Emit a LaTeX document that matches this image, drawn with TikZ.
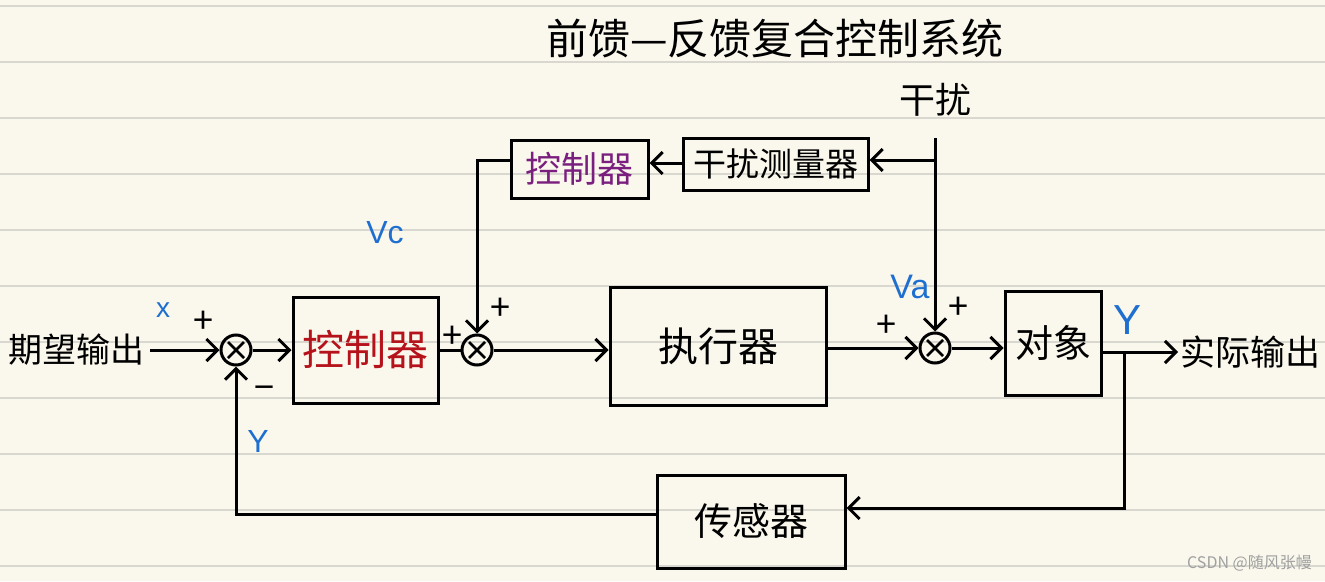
\documentclass[tikz,border=0pt]{standalone}
\usepackage{fontspec}
\setmainfont{Noto Sans CJK SC}
\newfontfamily\latinfont{Liberation Sans}
\usetikzlibrary{arrows.meta}
\definecolor{paper}{HTML}{FAF8EC}
\definecolor{rule}{HTML}{D8D8D0}
\definecolor{inkred}{HTML}{B5121B}
\definecolor{inkpurple}{HTML}{7A1F7F}
\definecolor{inkblue}{HTML}{1F6FD0}
\definecolor{wm}{HTML}{A0A0A0}
\tikzset{
  blk/.style={draw, line width=3pt, inner sep=0pt},
  sumj/.style={draw, circle, line width=3pt, minimum size=30pt, inner sep=0pt,
    path picture={\draw[line width=2.6pt]
      (path picture bounding box.south west)++(7pt,7pt) -- ++(16pt,16pt)
      (path picture bounding box.north west)++(7pt,-7pt) -- ++(16pt,-16pt);}},
  conn/.style={line width=3pt},
  arr/.style={line width=3pt, -{Straight Barb[length=11pt,width=22pt,line width=3pt]}},
  sign/.style={font=\fontsize{36}{38}\selectfont, inner sep=0pt},
  blue/.style={text=inkblue, font=\latinfont\fontsize{30}{32}\selectfont, inner sep=0pt},
}
\begin{document}
\begin{tikzpicture}[x=1pt,y=-1pt]
\fill[paper] (0,0) rectangle (1325,581);
\useasboundingbox (0,0) rectangle (1325,581);
\foreach \k in {0,...,10} \draw[rule, line width=2pt] (0,6+56*\k) -- (1325,6+56*\k);

% title
\node[font=\fontsize{42}{44}\selectfont, inner sep=0pt] (title) at (775,38) {前馈—反馈复合控制系统};
\node[font=\fontsize{36}{38}\selectfont, inner sep=0pt] (dist) at (935,100) {干扰};

% blocks
\node[blk, minimum width=145pt, minimum height=106pt, text=inkred, font=\fontsize{42}{44}\selectfont] (ctrl) at (365.5,350) {控制器};
\node[blk, minimum width=216pt, minimum height=118pt, font=\fontsize{40}{42}\selectfont] (exec) at (718,346) {执行器};
\node[blk, minimum width=96pt, minimum height=104pt, font=\fontsize{38}{40}\selectfont] (obj) at (1053,343) {对象};
\node[blk, minimum width=188pt, minimum height=93pt, font=\fontsize{38}{40}\selectfont] (sens) at (751,521.5) {传感器};
\node[blk, minimum width=185pt, minimum height=52pt, font=\fontsize{33}{35}\selectfont] (meas) at (775.5,164) {干扰测量器};
\node[blk, minimum width=137pt, minimum height=58pt, text=inkpurple, font=\fontsize{36}{38}\selectfont] (fctrl) at (579.5,169) {控制器};

% summing junctions
\node[sumj] (s1) at (236,350) {};
\node[sumj] (s2) at (477,350) {};
\node[sumj] (s3) at (935,348) {};

% input / output texts
\node[font=\fontsize{34}{36}\selectfont, inner sep=0pt, anchor=west] (inp) at (8,350) {期望输出};
\node[font=\fontsize{35}{37}\selectfont, inner sep=0pt, anchor=west] (outp) at (1180,352) {实际输出};
\coordinate (in1) at (150,350);
\coordinate (out1) at (1178,352);
\coordinate (br) at (1124,352);
\coordinate (fb) at (1124,508);
\coordinate (d0) at (935,138);
\coordinate (d1) at (935,160);
\coordinate (m1y) at (0,163);
\coordinate (f1y) at (0,160);
\coordinate (sy) at (0,514);

% connectors
\draw[arr] (in1) -- (s1);
\draw[arr] (s1) -- (ctrl.west |- s1);
\draw[conn] (ctrl.east |- s2) -- (s2);
\draw[arr] (s2) -- (exec.west |- s2);
\draw[arr] (exec.east |- s3) -- (s3);
\draw[arr] (s3) -- (s3 -| obj.west);
\draw[arr] (obj.east |- out1) -- (out1);
\draw[arr] (br) -- (fb) -- (fb -| sens.east);
\draw[arr] (sens.west |- sy) -| (s1);
\draw[arr] (d0) -- (s3);
\draw[arr] (d1) -- (d1 -| meas.east);
\draw[arr] (meas.west |- m1y) -- (m1y -| fctrl.east);
\draw[arr] (fctrl.west |- f1y) -| (s2);

% signs
\node[sign] (p1) at (203,322) {+};
\node[sign] (m1) at (264,393) {−};
\node[sign] (p2) at (452,337) {+};
\node[sign] (p3) at (500,309) {+};
\node[sign] (p4) at (886,326) {+};
\node[sign] (p5) at (958,308) {+};

% blue labels
\node[blue, font=\latinfont\fontsize{28}{30}\selectfont] (lx) at (163,310) {x};
\node[blue, font=\latinfont\fontsize{32}{34}\selectfont] (ly1) at (258,441) {Y};
\node[blue, font=\latinfont\fontsize{32}{34}\selectfont] (lvc) at (385,233) {Vc};
\node[blue, font=\latinfont\fontsize{34}{36}\selectfont] (lva) at (910,287) {Va};
\node[blue, font=\latinfont\fontsize{42}{44}\selectfont] (ly2) at (1127,320) {Y};

% watermark
\node[text=wm, font=\fontsize{16}{18}\selectfont, inner sep=0pt, anchor=east] (wmk) at (1312,563) {CSDN @随风张幔};
\end{tikzpicture}
\end{document}
